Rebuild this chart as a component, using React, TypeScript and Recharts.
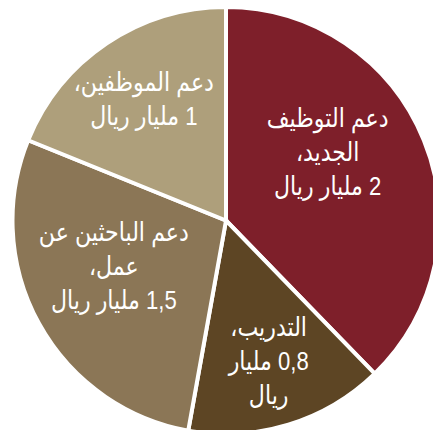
import { PieChart, Pie, Cell } from 'recharts'

// مكونات الدعم (مليار ريال)
const programs = ['دعم التوظيف الجديد', 'التدريب', 'دعم الباحثين عن عمل', 'دعم الموظفين']
const amounts = [2, 0.8, 1.5, 1]
const labelLines = [
  ['دعم التوظيف', 'الجديد،', '2 مليار ريال'],
  ['التدريب،', '0,8 مليار', 'ريال'],
  ['دعم الباحثين عن', 'عمل،', '1,5 مليار ريال'],
  ['دعم الموظفين،', '1 مليار ريال'],
]
const colors = ['#7E1F2A', '#5D4524', '#8B7656', '#AE9F7B']

// where each label sits inside its slice (fraction of radius, angle nudge)
const labelRadius = [0.575, 0.684, 0.566, 0.689]
const labelNudge = [12, 0, -7, 0]

const data = programs.map((name, i) => ({ name, value: amounts[i] }))

const RADIAN = Math.PI / 180
const LINE_H = 34
// DejaVu's arabic is wider than Arial's, squeeze it a bit
const SQUEEZE = 0.85

function SliceLabel(props: any) {
  const { cx, cy, midAngle, outerRadius, index } = props
  const r = outerRadius * labelRadius[index]
  const a = (midAngle + labelNudge[index]) * RADIAN
  const x = cx + r * Math.cos(a)
  const y = cy - r * Math.sin(a)
  const lines = labelLines[index]
  const top = y - ((lines.length - 1) * LINE_H) / 2
  return (
    <text
      x={x}
      y={top}
      transform={`translate(${x} 0) scale(${SQUEEZE} 1) translate(${-x} 0)`}
      fill="#fff"
      textAnchor="middle"
      dominantBaseline="central"
      direction="rtl"
      fontSize={26}
      fontFamily="'Liberation Sans', 'DejaVu Sans', sans-serif"
    >
      {lines.map((l, i) => (
        <tspan key={i} x={x} y={top + i * LINE_H}>
          {l}
        </tspan>
      ))}
    </text>
  )
}

export default function App() {
  return (
    <div style={{ position: 'absolute', left: 0, top: 0, background: '#fff' }}>
      <PieChart width={433} height={430} margin={{ top: 0, right: 0, bottom: 0, left: 0 }}>
        <Pie
          data={data}
          dataKey="value"
          nameKey="name"
          cx={226}
          cy={220.5}
          outerRadius={213.5}
          startAngle={90}
          endAngle={-270}
          stroke="#fff"
          strokeWidth={4}
          label={SliceLabel}
          labelLine={false}
          isAnimationActive={false}
        >
          {data.map((d, i) => (
            <Cell key={d.name} fill={colors[i]} />
          ))}
        </Pie>
      </PieChart>
    </div>
  )
}
